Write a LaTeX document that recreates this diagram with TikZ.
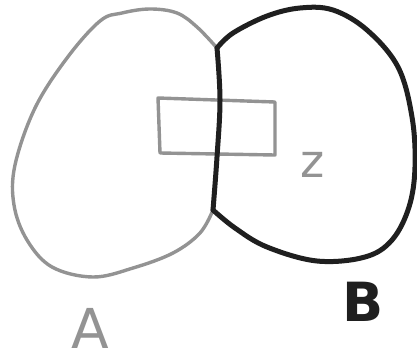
\documentclass[tikz,border=0pt]{standalone}
\usepackage{fontspec}
\setsansfont{DejaVu Sans}
\begin{document}
\begin{tikzpicture}[x=1pt,y=-1pt,
  grayline/.style={draw=gray!85, line width=3.4pt, line cap=round, line join=round},
  blackline/.style={draw=black!88, line width=5pt, line cap=round, line join=round},
  lbl/.style={inner sep=0pt, text depth=0pt, anchor=base, font=\sffamily}]
\useasboundingbox (0,0) rectangle (417,362);
\fill[white] (0,0) rectangle (417,362);
% region A
\draw[grayline] plot[smooth, tension=0.6] coordinates {(217,48) (197,27) (177,13) (150,9) (122,13) (100,21) (67,58) (35,108) (15,165) (14,205) (27,240) (52,267) (93,277) (133,268) (173,253) (200,233) (213,210)};
% region B
\draw[blackline] plot[smooth, tension=0.6] coordinates {(217,48) (233,33) (267,16) (300,8) (333,10) (367,30) (398,67) (412,117) (415,167) (409,207) (392,240) (365,257) (317,261) (267,247) (235,228) (213,210)};
% rectangle
\draw[grayline] (158,98) -- (275,102) -- (275,155) -- (160,153) -- cycle;
% divider
\draw[blackline] plot[smooth, tension=0.6] coordinates {(217,48) (220,100) (217,157) (213,210)};
% labels
\node[lbl, text=gray!85, font=\sffamily\fontsize{56}{56}\selectfont] (z) at (313,177) {\fontsize{46}{46}\selectfont z};
\node[lbl, text=gray!85, font=\sffamily\fontsize{55}{55}\selectfont] (a) at (90,348) {A};
\node[lbl, text=black!88, font=\sffamily\bfseries\fontsize{54}{54}\selectfont] (b) at (363,321) {B};
\end{tikzpicture}
\end{document}
